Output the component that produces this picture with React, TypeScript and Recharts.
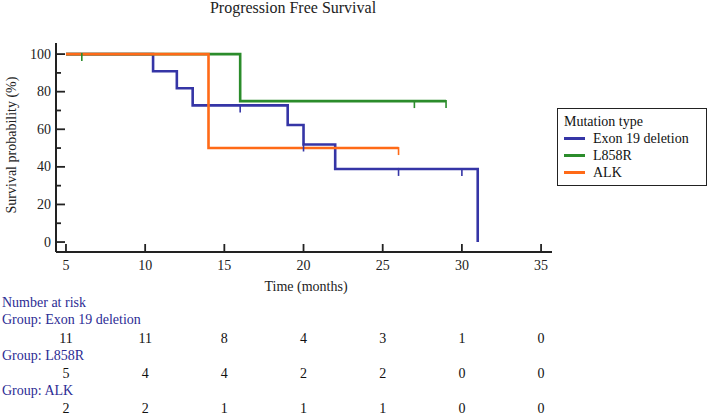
import { ComposedChart, Line, Scatter, XAxis, YAxis, Legend } from "recharts";

const timeTicks = [5, 10, 15, 20, 25, 30, 35];
const survTicks = [0, 10, 20, 30, 40, 50, 60, 70, 80, 90, 100];
const groupNames = ["Exon 19 deletion", "L858R", "ALK"];

// Kaplan-Meier steps (time in months, survival %)
const exonTimes = [5, 10.5, 12, 13, 19, 20, 22, 31];
const exonSurv = [100, 90.9, 81.8, 72.7, 62.3, 51.9, 38.9, 0];
const exonCensorTimes = [16, 20, 26, 30];
const exonCensorSurv = [72.7, 51.9, 38.9, 38.9];

const l858Times = [5, 16, 29];
const l858Surv = [100, 75, 75];
const l858CensorTimes = [6, 27, 29];
const l858CensorSurv = [100, 75, 75];

const alkTimes = [5, 14, 26];
const alkSurv = [100, 50, 50];
const alkCensorTimes = [26];
const alkCensorSurv = [50];

// number at risk, one per time tick
const exonRisk = [11, 11, 8, 4, 3, 1, 0];
const l858Risk = [5, 4, 4, 2, 2, 0, 0];
const alkRisk = [2, 2, 1, 1, 1, 0, 0];

const BLUE = "#3535a6";
const GREEN = "#2b8c2b";
const ORANGE = "#ff6a17";
const FONT = "'Liberation Serif', 'Times New Roman', serif";
const NAVY = "#2c2c94";

const toPoints = (times: number[], surv: number[]) =>
  times.map((t, i) => ({ t, s: surv[i] }));

const censorShape = (color: string) => (props: any) => {
  const { cx, cy } = props;
  return (
    <line x1={cx} y1={cy - 1} x2={cx} y2={cy + 7} stroke={color} strokeWidth={1.6} />
  );
};

const XTick = (props: any) => {
  const { x, y, payload } = props;
  const i = timeTicks.indexOf(payload.value);
  const rows = [exonRisk, l858Risk, alkRisk];
  const rowY = [86, 121, 156];
  return (
    <g>
      <line x1={x} y1={y} x2={x} y2={y - 8} stroke="#222" strokeWidth={1.8} />
      <text x={x} y={y + 13} textAnchor="middle" dominantBaseline="central"
        fontFamily={FONT} fontSize={14} fill="#222">
        {payload.value}
      </text>
      {rows.map((r, k) => (
        <text key={k} x={x} y={y + rowY[k]} textAnchor="middle" dominantBaseline="central"
          fontFamily={FONT} fontSize={14} fill="#111">
          {r[i]}
        </text>
      ))}
    </g>
  );
};

const YTick = (props: any) => {
  const { x, y, payload } = props;
  const major = payload.value % 20 === 0;
  return (
    <g>
      <line x1={x} y1={y} x2={x + (major ? 9 : 5)} y2={y} stroke="#222" strokeWidth={1.8} />
      {major && (
        <text x={x - 5} y={y} textAnchor="end" dominantBaseline="central"
          fontFamily={FONT} fontSize={14} fill="#222">
          {payload.value}
        </text>
      )}
    </g>
  );
};

const LegendBox = (props: any) => {
  const items = (props.payload || [])
    .filter((p: any) => p.type !== "none")
    .sort((a: any, b: any) => groupNames.indexOf(a.value) - groupNames.indexOf(b.value));
  return (
    <div style={{
      border: "1.6px solid #222", boxSizing: "border-box", width: 150, height: 78,
      padding: "4px 6px", fontFamily: FONT, fontSize: 14, lineHeight: "17px",
      color: "#111", background: "#fff", textAlign: "left"
    }}>
      <div>Mutation type</div>
      {items.map((p: any) => (
        <div key={p.value} style={{ display: "flex", alignItems: "center" }}>
          <span style={{ display: "inline-block", width: 21, height: 2.5, background: p.color, marginRight: 8 }} />
          {p.value}
        </div>
      ))}
    </div>
  );
};

const abs = (left: number, top: number, extra: any = {}) => ({
  position: "absolute" as const, left, top, fontFamily: FONT, fontSize: 14,
  whiteSpace: "nowrap" as const, lineHeight: "16px", ...extra
});

export default function App() {
  return (
    <div style={{ position: "absolute", left: 0, top: 0, width: 709, height: 414, background: "#fff" }}>
      <ComposedChart width={709} height={414} margin={{ top: 43, right: 157, bottom: 132, left: 0 }}>
        <XAxis dataKey="t" type="number" domain={[4.37, 35.69]} ticks={timeTicks}
          allowDataOverflow height={30} tickSize={0} tickMargin={0} tickLine={false}
          axisLine={{ stroke: "#222", strokeWidth: 2 }} tick={<XTick />} interval={0} />
        <YAxis type="number" domain={[-5.3, 105.9]} ticks={survTicks} allowDataOverflow
          width={56} tickSize={0} tickMargin={0} tickLine={false}
          axisLine={{ stroke: "#222", strokeWidth: 2 }} tick={<YTick />} interval={0} />
        <Legend layout="vertical" align="center" verticalAlign="middle" content={<LegendBox />}
          wrapperStyle={{ position: "absolute", left: 557, top: 108, width: 150 }} />
        <Line data={toPoints(exonTimes, exonSurv)} dataKey="s" name={groupNames[0]} type="stepAfter"
          stroke={BLUE} strokeWidth={2.6} dot={false} isAnimationActive={false} />
        <Line data={toPoints(l858Times, l858Surv)} dataKey="s" name={groupNames[1]} type="stepAfter"
          stroke={GREEN} strokeWidth={2.6} dot={false} isAnimationActive={false} />
        <Line data={toPoints(alkTimes, alkSurv)} dataKey="s" name={groupNames[2]} type="stepAfter"
          stroke={ORANGE} strokeWidth={2.6} dot={false} isAnimationActive={false} />
        <Scatter data={toPoints(exonCensorTimes, exonCensorSurv)} dataKey="s" legendType="none"
          shape={censorShape(BLUE)} isAnimationActive={false} />
        <Scatter data={toPoints(l858CensorTimes, l858CensorSurv)} dataKey="s" legendType="none"
          shape={censorShape(GREEN)} isAnimationActive={false} />
        <Scatter data={toPoints(alkCensorTimes, alkCensorSurv)} dataKey="s" legendType="none"
          shape={censorShape(ORANGE)} isAnimationActive={false} />
      </ComposedChart>

      <div style={abs(293, 0, { transform: "translateX(-50%)", fontSize: 16, color: "#222" })}>
        Progression Free Survival
      </div>
      <div style={abs(12, 145, { transform: "translate(-50%, -50%) rotate(-90deg)", color: "#222" })}>
        Survival probability (%)
      </div>
      <div style={abs(306, 279, { transform: "translateX(-50%)", color: "#222" })}>Time (months)</div>
      <div style={abs(2, 295, { color: NAVY })}>Number at risk</div>
      <div style={abs(2, 312, { color: NAVY })}>Group: Exon 19 deletion</div>
      <div style={abs(2, 348, { color: NAVY })}>Group: L858R</div>
      <div style={abs(2, 383, { color: NAVY })}>Group: ALK</div>
    </div>
  );
}
